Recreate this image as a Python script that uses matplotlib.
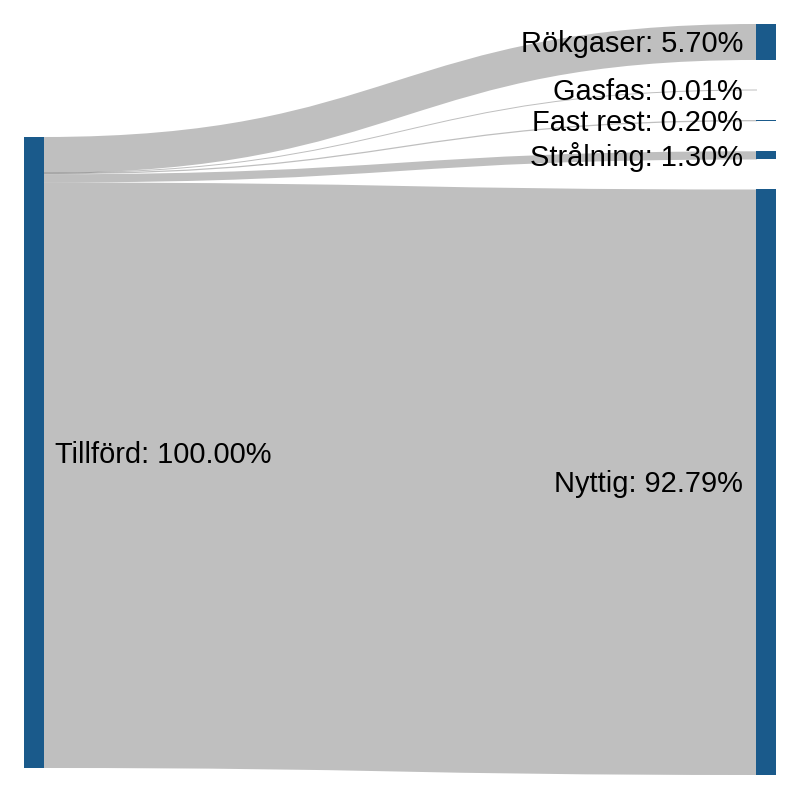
import matplotlib.pyplot as plt
from matplotlib.path import Path
from matplotlib.patches import PathPatch, Rectangle

# energibalans: tillförd energi -> förluster och nyttig energi
kalla = "Tillförd"
mal = ["Rökgaser", "Gasfas", "Fast rest", "Strålning", "Nyttig"]
varden = [5.70, 0.01, 0.20, 1.30, 92.79]

# layout (pixlar)
W, H = 800, 800
nod_bredd = 20
padding = 30
x_vanster = 24
x_hoger = 756
topp_hoger = 24
topp_vanster = 137
total = sum(varden)
ky = (H - 2 * topp_hoger - padding * (len(mal) - 1) - 1) / total

nodfarg = "#1a5a8b"
fontsize = 29 * 0.72

fig = plt.figure(figsize=(8, 8), dpi=100)
ax = fig.add_axes([0, 0, 1, 1])
ax.set_xlim(0, W)
ax.set_ylim(H, 0)
ax.axis("off")

# noder till höger
y = topp_hoger
hoger_y = []
for v in varden:
    hoger_y.append(y)
    y += v * ky + padding

# länkar
sy = topp_vanster
for namn, v, ty in zip(mal, varden, hoger_y):
    dy = v * ky
    x0 = x_vanster + nod_bredd - 1
    x1 = x_hoger + 1
    xm = (x0 + x1) / 2
    y0 = sy + dy / 2
    y1 = ty + dy / 2
    p = Path([(x0, y0), (xm, y0), (xm, y1), (x1, y1)],
             [Path.MOVETO, Path.CURVE4, Path.CURVE4, Path.CURVE4])
    ax.add_patch(PathPatch(p, fill=False, edgecolor="black", alpha=0.25,
                           linewidth=max(1, dy) * 0.72, capstyle="butt", zorder=1))
    sy += dy

# vänster nod
h = total * ky
ax.add_patch(Rectangle((x_vanster, topp_vanster), nod_bredd, h, color=nodfarg, lw=0, zorder=2))
ax.text(x_vanster + nod_bredd + 11, topp_vanster + h / 2 + 0.35 * 29,
        f"{kalla}: {total:.2f}%", ha="left", va="baseline",
        fontsize=fontsize, family="Liberation Sans", zorder=3)

# högra noder
for namn, v, ty in zip(mal, varden, hoger_y):
    dy = v * ky
    ax.add_patch(Rectangle((x_hoger, ty), nod_bredd, dy, color=nodfarg, lw=0, zorder=2))
    ax.text(x_hoger - 13, ty + dy / 2 + 0.35 * 29, f"{namn}: {v:.2f}%",
            ha="right", va="baseline", fontsize=fontsize, family="Liberation Sans", zorder=3)

fig.savefig("out.png", dpi=100)
